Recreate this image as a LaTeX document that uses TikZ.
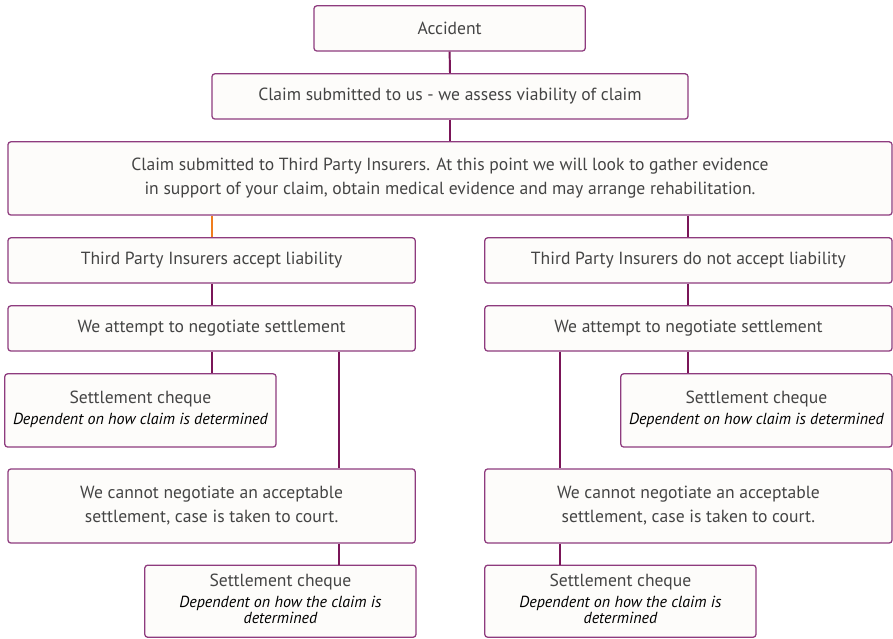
\documentclass[tikz,border=0pt]{standalone}
\usepackage{fontspec}
\setmainfont{PT Sans}
\usetikzlibrary{positioning, calc}
\definecolor{plum}{HTML}{8E3B7E}
\definecolor{dkplum}{HTML}{7A1558}
\definecolor{paper}{HTML}{FDFCFA}
\definecolor{txtgray}{HTML}{444444}
\definecolor{tangerine}{HTML}{F07D1E}
% italic note under a cheque heading
\newcommand{\chqnote}[1]{{\color{black}\itshape\fontsize{11.4}{11}\selectfont
  \begin{tabular}[t]{@{}c@{}}#1\end{tabular}}}

\begin{document}
\begin{tikzpicture}[
  stage/.style={draw=plum, line width=0.9pt, fill=paper, rounded corners=2pt,
    text=txtgray, font=\fontsize{12.5}{15}\selectfont, align=center,
    inner sep=0pt, minimum height=1.13cm},
  wide/.style={stage, minimum width=10.18cm},
  cheque/.style={stage, minimum width=6.78cm, minimum height=1.83cm},
  link/.style={dkplum, line width=1.4pt}
]

% Canvas: 1px of the reference = 0.025cm
\useasboundingbox (0,0) rectangle (22.325,-15.95);

% Top of the flow
\node[stage, minimum width=6.78cm] (acc) at (11.24,-0.71) {Accident};
\node[stage, minimum width=11.9cm] (sub) at (11.25,-2.41)
  {Claim submitted to us - we assess viability of claim};
\node[stage, minimum width=22.1cm, minimum height=1.83cm] (tpi) at (11.25,-4.46)
  {Claim submitted to Third Party Insurers. At this point we will look to gather evidence\\[2pt]
   in support of your claim, obtain medical evidence and may arrange rehabilitation.};

% Left branch
\node[wide] (accL) at (5.29,-6.51) {Third Party Insurers accept liability};
\node[wide] (negL) at (5.29,-8.21) {We attempt to negotiate settlement};
\node[cheque] (chqL) at (3.51,-10.26)
  {Settlement cheque\\\chqnote{Dependent on how claim is determined}};
\node[wide, minimum height=1.85cm] (crtL) at (5.29,-12.65)
  {We cannot negotiate an acceptable\\[2pt] settlement, case is taken to court.};
\node[cheque, minimum height=1.8cm] (finL) at (7.01,-15.03)
  {Settlement cheque\\\chqnote{Dependent on how the claim is\\ determined}};

% Right branch
\node[wide] (accR) at (17.21,-6.51) {Third Party Insurers do not accept liability};
\node[wide] (negR) at (17.21,-8.21) {We attempt to negotiate settlement};
\node[cheque] (chqR) at (18.91,-10.26)
  {Settlement cheque\\\chqnote{Dependent on how claim is determined}};
\node[wide, minimum height=1.85cm] (crtR) at (17.21,-12.65)
  {We cannot negotiate an acceptable\\[2pt] settlement, case is taken to court.};
\node[cheque, minimum height=1.8cm] (finR) at (15.51,-15.03)
  {Settlement cheque\\\chqnote{Dependent on how the claim is\\ determined}};

% Connectors
\draw[link] (acc.south) -- (sub.north);
\draw[link] (sub.south) -- (tpi.north);
\draw[tangerine, line width=1.4pt] (accL.north |- tpi.south) -- (accL.north);
\draw[link] (accR.north |- tpi.south) -- (accR.north);
\draw[link] (accL.south) -- (negL.north);
\draw[link] (accR.south) -- (negR.north);

% left: cheque and court
\draw[link] (negL.south) -- (negL.south |- chqL.north);
\draw[link] ([xshift=3.19cm]negL.south) -- ([xshift=3.19cm]crtL.north);
\draw[link] ([xshift=3.19cm]crtL.south) -- ([xshift=3.19cm]crtL.south |- finL.north);

% right: cheque and court
\draw[link] (negR.south) -- (negR.south |- chqR.north);
\draw[link] ([xshift=-3.21cm]negR.south) -- ([xshift=-3.21cm]crtR.north);
\draw[link] ([xshift=-3.21cm]crtR.south) -- ([xshift=-3.21cm]crtR.south |- finR.north);

\end{tikzpicture}
\end{document}
